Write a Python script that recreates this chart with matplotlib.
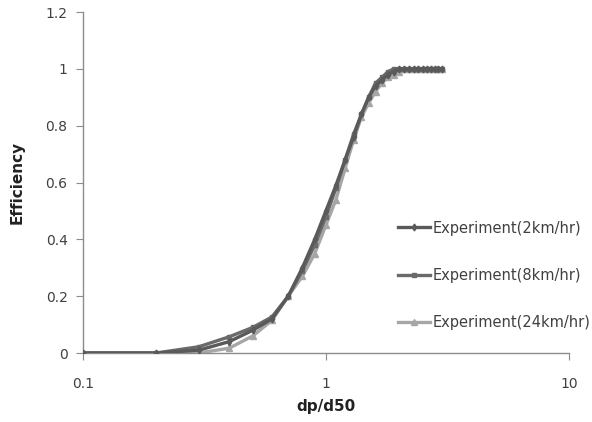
import matplotlib
matplotlib.use("Agg")
import matplotlib.pyplot as plt

# dp/d50 values (0.1 .. 3.0, step 0.1)
dp_d50 = [0.1, 0.2, 0.3, 0.4, 0.5, 0.6, 0.7, 0.8, 0.9, 1.0,
          1.1, 1.2, 1.3, 1.4, 1.5, 1.6, 1.7, 1.8, 1.9, 2.0,
          2.1, 2.2, 2.3, 2.4, 2.5, 2.6, 2.7, 2.8, 2.9, 3.0]

eff_2km = [0, 0, 0.01, 0.04, 0.08, 0.12, 0.20, 0.30, 0.40, 0.50,
           0.59, 0.68, 0.76, 0.84, 0.90, 0.94, 0.96, 0.98, 0.99, 1.0,
           1.0, 1.0, 1.0, 1.0, 1.0, 1.0, 1.0, 1.0, 1.0, 1.0]

eff_8km = [0, 0, 0.022, 0.057, 0.09, 0.127, 0.20, 0.29, 0.38, 0.48,
           0.58, 0.68, 0.77, 0.84, 0.90, 0.95, 0.97, 0.99, 1.0, 1.0,
           1.0, 1.0, 1.0, 1.0, 1.0, 1.0, 1.0, 1.0, 1.0, 1.0]

eff_24km = [0, 0, 0, 0.017, 0.06, 0.115, 0.20, 0.27, 0.35, 0.45,
            0.54, 0.65, 0.75, 0.83, 0.88, 0.92, 0.95, 0.97, 0.98, 0.99,
            1.0, 1.0, 1.0, 1.0, 1.0, 1.0, 1.0, 1.0, 1.0, 1.0]

labels = ["Experiment(2km/hr)", "Experiment(8km/hr)", "Experiment(24km/hr)"]

fig = plt.figure(figsize=(5.92, 4.22), dpi=100)
ax = fig.add_axes([0.140, 0.1635, 0.821, 0.808])

ax.plot(dp_d50, eff_24km, color="#a6a6a6", lw=2.4, marker="^", ms=4.5, label=labels[2], zorder=2)
ax.plot(dp_d50, eff_8km, color="#6a6a6a", lw=2.4, marker="s", ms=3.5, label=labels[1], zorder=3)
ax.plot(dp_d50, eff_2km, color="#5a5a5a", lw=2.4, marker="d", ms=3.5, label=labels[0], zorder=4)

ax.set_xscale("log")
ax.set_xlim(0.1, 10)
ax.set_ylim(0, 1.2)
ax.set_xticks([0.1, 1, 10])
ax.set_xticklabels(["0.1", "1", "10"])
ax.minorticks_off()
ax.set_yticks([0, 0.2, 0.4, 0.6, 0.8, 1.0, 1.2])
ax.set_yticklabels(["0", "0.2", "0.4", "0.6", "0.8", "1", "1.2"])

for s in ["top", "right"]:
    ax.spines[s].set_visible(False)
for s in ["left", "bottom"]:
    ax.spines[s].set_color("#8c8c8c")
    ax.spines[s].set_linewidth(1.0)
ax.tick_params(direction="out", length=5, color="#8c8c8c", labelsize=10, labelcolor="#404040", pad=6)
ax.tick_params(axis="x", pad=12)

ax.set_xlabel("dp/d50", fontsize=11, fontweight="bold", color="#222222", labelpad=6)
ax.set_ylabel("Efficiency", fontsize=11, fontweight="bold", color="#222222", labelpad=15)

h, l = ax.get_legend_handles_labels()
order = [2, 1, 0]
fig.legend([h[i] for i in order], [l[i] for i in order], loc="center left",
           bbox_to_anchor=(0.660, 0.348), frameon=False, fontsize=10.5,
           labelspacing=2.2, handlelength=2.2, handletextpad=0.2, borderpad=0,
           labelcolor="#404040")

fig.savefig("out.png", dpi=100)
